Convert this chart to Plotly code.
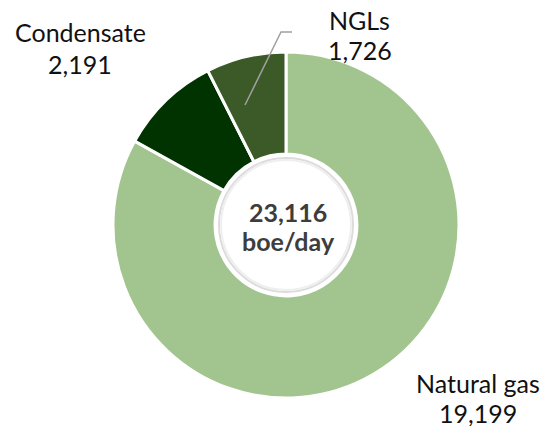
import plotly.graph_objects as go

categories = ["Natural gas", "Condensate", "NGLs"]
values = [19199, 2191, 1726]
colors = ["#a2c590", "#013300", "#3c5a27"]
total_value = "23,116"
total_unit = "boe/day"

W, H = 552, 426
OFF = 8  # browser default body margin
cx, cy, R = 286 - OFF, 225 - OFF, 173

def px(x):
    return (x - OFF) / W

def py(y):
    return 1 - (y - OFF) / H

fig = go.Figure(go.Pie(
    labels=categories, values=values, sort=False, direction="clockwise", rotation=0,
    hole=0.41, textinfo="none", hoverinfo="label+value",
    marker=dict(colors=colors, line=dict(color="white", width=3)),
    domain=dict(x=[(cx - R) / W, (cx + R) / W], y=[1 - (cy + R) / H, 1 - (cy - R) / H]),
    showlegend=False,
))

font = dict(family="Lato, Open Sans, sans-serif", size=25, color="#111111")
cfont = dict(family="Lato, Open Sans, sans-serif", size=25, color="#3d3d3d")

def fmt(v):
    return f"{v:,}"

lines = [
    (80, 32, categories[1], font), (80, 64, fmt(values[1]), font),
    (360, 20, categories[2], font), (360, 50, fmt(values[2]), font),
    (478, 383, categories[0], font), (478, 413, fmt(values[0]), font),
    (288, 212, f"<b>{total_value}</b>", cfont), (288, 241, f"<b>{total_unit}</b>", cfont),
]
annotations = []
for x, y, t, f in lines:
    annotations.append(dict(x=px(x), y=py(y), xref="paper", yref="paper",
                            text=t, showarrow=False, font=f, align="center",
                            xanchor="center", yanchor="middle"))

hx, hy = cx + OFF, cy + OFF
def circ(r, color, w):
    return dict(type="circle", xref="paper", yref="paper",
                x0=px(hx - r), x1=px(hx + r), y0=py(hy + r), y1=py(hy - r),
                line=dict(color=color, width=w), layer="above")

fig.update_layout(
    width=W, height=H, margin=dict(l=0, r=0, t=0, b=0),
    paper_bgcolor="white", plot_bgcolor="white",
    annotations=annotations,
    shapes=[
        dict(type="path", xref="paper", yref="paper",
             path=f"M {px(245)} {py(105)} L {px(281)} {py(32)} L {px(292)} {py(32)}",
             line=dict(color="#a0a0a0", width=1.5)),
        circ(67, "#dcdcdc", 2),
        circ(65, "#efefef", 2),
    ],
)

fig.write_html("out.html")
